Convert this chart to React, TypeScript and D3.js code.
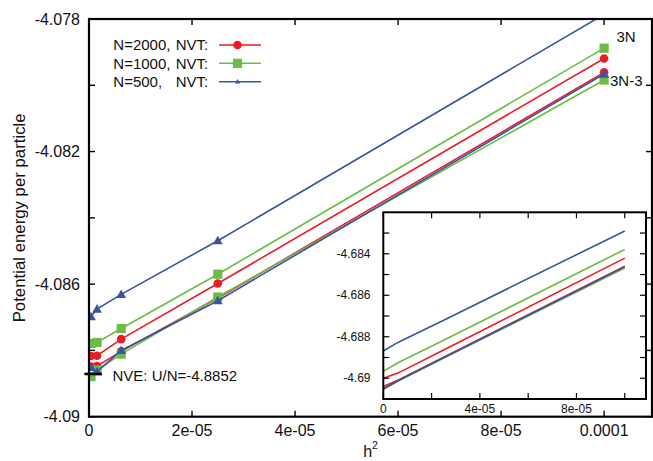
import React from "react";
import * as d3 from "d3";

// ---- data ----
const h2 = [3.9e-7, 1.5625e-6, 6.25e-6, 2.5e-5, 1e-4];
const n2000_3N = [-4.08817, -4.08816, -4.08766, -4.08598, -4.07919];
const n2000_3N3 = [-4.08849, -4.08847, -4.08803, -4.08642, -4.07961];
const n1000_3N = [-4.08779, -4.08776, -4.08734, -4.0857, -4.07888];
const n1000_3N3 = [-4.08879, -4.08859, -4.08811, -4.08639, -4.07984];
const n500_3N = [-4.08698, -4.08675, -4.08631, -4.08469, -4.07786];
const n500_3N3 = [-4.08851, -4.08864, -4.088, -4.0865, -4.07966];

const nveValue = -4.08871;
const nveSpan = [-9e-7, 2.5e-6];

const insetH2 = [0, 6.25e-6, 2.5e-5, 1e-4];
const inset_n2000_3N = [-4.69, -4.68974, -4.68864, -4.68421];
const inset_n2000_3N3 = [-4.6904, -4.69008, -4.68898, -4.6846];
const inset_n1000_3N = [-4.68966, -4.68924, -4.68817, -4.68379];
const inset_n1000_3N3 = [-4.69054, -4.69013, -4.68903, -4.68469];
const inset_n500_3N = [-4.68869, -4.68826, -4.6872, -4.6829];
const inset_n500_3N3 = [-4.69051, -4.69011, -4.68901, -4.68463];

const xTicks = [0, 2e-5, 4e-5, 6e-5, 8e-5, 1e-4];
const xTickLabels = ["0", "2e-05", "4e-05", "6e-05", "8e-05", "0.0001"];
const yTicks = [-4.09, -4.088, -4.086, -4.084, -4.082, -4.08, -4.078];
const yTickLabels = [-4.09, -4.086, -4.082, -4.078];

const insetXTicks = [0, 2e-5, 4e-5, 6e-5, 8e-5, 1e-4];
const insetXLabelVals = [0, 4e-5, 8e-5];
const insetXLabels = ["0", "4e-05", "8e-05"];
const insetYTicks = [-4.69, -4.689, -4.688, -4.687, -4.686, -4.685, -4.684, -4.683];
const insetYLabels = [-4.69, -4.688, -4.686, -4.684];

const legendNames = ["N=2000,", "N=1000,", "N=500,"];

const RED = "#ec1c24";
const GREEN = "#6cbd45";
const BLUE = "#3a54a4";
const FONT = "'Liberation Sans', Arial, Helvetica, sans-serif";

type Series = { color: string; marker: string; upper: number[]; lower: number[]; iu: number[]; il: number[] };
const series: Series[] = [
  { color: RED, marker: "circle", upper: n2000_3N, lower: n2000_3N3, iu: inset_n2000_3N, il: inset_n2000_3N3 },
  { color: GREEN, marker: "square", upper: n1000_3N, lower: n1000_3N3, iu: inset_n1000_3N, il: inset_n1000_3N3 },
  { color: BLUE, marker: "triangle", upper: n500_3N, lower: n500_3N3, iu: inset_n500_3N, il: inset_n500_3N3 },
];

function Marker({ type, x, y, color, small }: { type: string; x: number; y: number; color: string; small?: boolean }) {
  if (type === "circle") return <circle cx={x} cy={y} r={4.3} fill={color} />;
  if (type === "square") return <rect x={x - 4.6} y={y - 4.6} width={9.2} height={9.2} fill={color} />;
  const tri = d3.symbol().type(d3.symbolTriangle).size(small ? 12 : 42)();
  return <path d={tri || ""} transform={`translate(${x},${y + (small ? 0.3 : 0.8)})`} fill={color} />;
}

export default function App() {
  const L = 89, R = 652, T = 19, B = 416.7;
  const x = d3.scaleLinear().domain([0, 1.093e-4]).range([L, R]);
  const y = d3.scaleLinear().domain([-4.09, -4.078]).range([B, T]);

  const iL = 383.3, iR = 646, iT = 212.3, iB = 399;
  const xi = d3.scaleLinear().domain([0, 1.088e-4]).range([iL, iR]);
  const yi = d3.scaleLinear().domain([-4.691, -4.682]).range([iB, iT]);

  const line = d3.line<number>().x((_, i) => x(h2[i])).y((d) => y(d));
  const iline = d3.line<number>().x((_, i) => xi(insetH2[i])).y((d) => yi(d));

  const tk = 6;
  const legendY = [45, 63.3, 81.7];

  return (
    <svg width={653} height={461} style={{ position: "absolute", left: 0, top: 0, background: "#fff" }} fontFamily={FONT}>
      <defs>
        <clipPath id="plotclip">
          <rect x={L} y={T} width={R - L} height={B - T} />
        </clipPath>
        <clipPath id="insetclip">
          <rect x={iL} y={iT} width={iR - iL} height={iB - iT} />
        </clipPath>
      </defs>
      <rect x={0} y={0} width={653} height={461} fill="#fff" />

      {/* main data */}
      <g clipPath="url(#plotclip)">
        {series.map((s, k) => (
          <g key={k}>
            <path d={line(s.upper) || ""} fill="none" stroke={s.color} strokeWidth={1.6} />
            <path d={line(s.lower) || ""} fill="none" stroke={s.color} strokeWidth={1.6} />
            {s.upper.map((v, i) => (
              <Marker key={"u" + i} type={s.marker} x={x(h2[i])} y={y(v)} color={s.color} />
            ))}
            {s.lower.map((v, i) => (
              <Marker key={"l" + i} type={s.marker} x={x(h2[i])} y={y(v)} color={s.color} />
            ))}
          </g>
        ))}
      </g>
      <line x1={x(nveSpan[0])} x2={x(nveSpan[1])} y1={y(nveValue)} y2={y(nveValue)} stroke="#000" strokeWidth={2.6} />
      <text x={112.5} y={y(nveValue) + 2} fontSize={15} dy="0.35em" fill="#111">NVE: U/N=-4.8852</text>

      {/* main frame */}
      <rect x={L} y={T} width={R - L} height={B - T} fill="none" stroke="#000" strokeWidth={2.2} />
      {xTicks.map((t, i) => (
        <g key={"xt" + i}>
          <line x1={x(t)} x2={x(t)} y1={B} y2={B - tk} stroke="#000" strokeWidth={1.4} />
          <line x1={x(t)} x2={x(t)} y1={T} y2={T + tk} stroke="#000" strokeWidth={1.4} />
          <text x={x(t)} y={B + 14} fontSize={16} textAnchor="middle" dy="0.35em" fill="#111">{xTickLabels[i]}</text>
        </g>
      ))}
      {yTicks.map((t, i) => (
        <g key={"yt" + i}>
          <line x1={L} x2={L + tk} y1={y(t)} y2={y(t)} stroke="#000" strokeWidth={1.4} />
          <line x1={R} x2={R - tk} y1={y(t)} y2={y(t)} stroke="#000" strokeWidth={1.4} />
        </g>
      ))}
      {yTickLabels.map((t, i) => (
        <text key={"yl" + i} x={80} y={y(t)} fontSize={16} textAnchor="end" dy="0.35em" fill="#111">{String(t)}</text>
      ))}

      <text transform={`translate(19,${(T + B) / 2}) rotate(-90)`} fontSize={16.8} textAnchor="middle" dy="0.35em" fill="#111">
        Potential energy per particle
      </text>
      <text x={(L + R) / 2} y={457} fontSize={16} textAnchor="middle" fill="#111">
        h<tspan fontSize={10.5} dy="-0.75em">2</tspan>
      </text>

      {/* annotations */}
      <text x={616.5} y={36.7} fontSize={15} dy="0.35em" fill="#111">3N</text>
      <text x={610} y={81} fontSize={15} dy="0.35em" fill="#111">3N-3</text>

      {/* legend */}
      {series.map((s, k) => (
        <g key={"lg" + k}>
          <text x={113.3} y={legendY[k]} fontSize={15} dy="0.35em" fill="#111">{legendNames[k]}</text>
          <text x={175.7} y={legendY[k]} fontSize={15} dy="0.35em" fill="#111">NVT:</text>
          <line x1={219} x2={261} y1={legendY[k]} y2={legendY[k]} stroke={s.color} strokeWidth={1.6} />
          <Marker type={s.marker} x={237.5} y={legendY[k]} color={s.color} small />
        </g>
      ))}

      {/* inset */}
      <rect x={iL} y={iT} width={iR - iL} height={iB - iT} fill="#fff" />
      <g clipPath="url(#insetclip)">
        {series.map((s, k) => (
          <g key={"in" + k}>
            <path d={iline(s.iu) || ""} fill="none" stroke={s.color} strokeWidth={1.6} />
            <path d={iline(s.il) || ""} fill="none" stroke={s.color} strokeWidth={1.6} />
          </g>
        ))}
      </g>
      <rect x={iL} y={iT} width={iR - iL} height={iB - iT} fill="none" stroke="#000" strokeWidth={2} />
      {insetXTicks.map((t, i) => (
        <g key={"ixt" + i}>
          <line x1={xi(t)} x2={xi(t)} y1={iB} y2={iB - tk} stroke="#000" strokeWidth={1.2} />
          <line x1={xi(t)} x2={xi(t)} y1={iT} y2={iT + tk} stroke="#000" strokeWidth={1.2} />
        </g>
      ))}
      {insetXLabelVals.map((t, i) => (
        <text key={"ixl" + i} x={xi(t)} y={iB + 9.5} fontSize={12} textAnchor="middle" dy="0.35em" fill="#111">{insetXLabels[i]}</text>
      ))}
      {insetYTicks.map((t, i) => (
        <g key={"iyt" + i}>
          <line x1={iL} x2={iL + tk} y1={yi(t)} y2={yi(t)} stroke="#000" strokeWidth={1.2} />
          <line x1={iR} x2={iR - tk} y1={yi(t)} y2={yi(t)} stroke="#000" strokeWidth={1.2} />
        </g>
      ))}
      {insetYLabels.map((t, i) => (
        <text key={"iyl" + i} x={370.5} y={yi(t)} fontSize={12} textAnchor="end" dy="0.35em" fill="#111">{String(t)}</text>
      ))}
    </svg>
  );
}
